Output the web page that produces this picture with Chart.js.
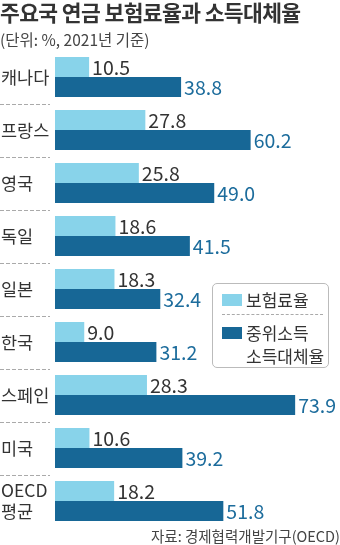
<!DOCTYPE html>
<html>
<head>
<meta charset="utf-8">
<script src="https://cdn.jsdelivr.net/npm/chart.js@4"></script>
<style>
    html, body { margin: 0; padding: 0; background: #fff; }
    body { width: 340px; height: 545px; position: relative; overflow: hidden; font-family: "Noto Sans CJK KR", sans-serif; color: #333; }
    #wrap { position: absolute; left: 0; top: 0; width: 340px; height: 545px; }
    .title { position: absolute; left: 0; top: -4px; font-size: 21.5px; font-weight: bold; letter-spacing: -0.6px; color: #333; white-space: nowrap; }
    .sub { position: absolute; left: 0; top: 28px; font-size: 15.5px; color: #444; white-space: nowrap; }
    .src { position: absolute; right: 0; top: 525px; font-size: 14.5px; color: #444; white-space: nowrap; }
    .legend { position: absolute; left: 212px; top: 283px; width: 117px; height: 85px; border: 1px solid #bbb; border-radius: 5px; box-sizing: border-box; background: #fff; }
    .sw { position: absolute; left: 9px; width: 20px; height: 12px; }
    .lt { position: absolute; left: 33px; font-size: 17px; line-height: 23px; color: #333; white-space: nowrap; }
    .dash { position: absolute; left: 9px; right: 5px; top: 30px; border-top: 1px dashed #aaa; }
</style>
</head>
<body>
<div id="wrap"><canvas id="c"></canvas></div>
<div class="title">주요국 연금 보험료율과 소득대체율</div>
<div class="sub">(단위: %, 2021년 기준)</div>
<div class="legend" id="legend"></div>
<div class="src">자료: 경제협력개발기구(OECD)</div>
<script>
const categories = ['캐나다', '프랑스', '영국', '독일', '일본', '한국', '스페인', '미국', ['OECD', '평균']];
const premiumRate = [10.5, 27.8, 25.8, 18.6, 18.3, 9.0, 28.3, 10.6, 18.2];
const replacementRate = [38.8, 60.2, 49.0, 41.5, 32.4, 31.2, 73.9, 39.2, 51.8];
const seriesNames = ['보험료율', ['중위소득', '소득대체율']];

const LIGHT = '#88d3ea';
const DARK = '#176796';
const FONT = '"Noto Sans CJK KR", sans-serif';

// legend box
const legend = document.getElementById('legend');
legend.innerHTML =
    '<div class="sw" style="top:10px;background:' + LIGHT + '"></div>' +
    '<div class="lt" style="top:4px">' + seriesNames[0] + '</div>' +
    '<div class="dash"></div>' +
    '<div class="sw" style="top:43px;background:' + DARK + '"></div>' +
    '<div class="lt" style="top:37px">' + seriesNames[1].join('<br>') + '</div>';

const labelsPlugin = {
    id: 'labels',
    afterDatasetsDraw(chart) {
        const ctx = chart.ctx;
        const yScale = chart.scales.y;
        ctx.save();

        // category names + dashed separators
        ctx.fillStyle = '#333';
        ctx.font = '17.5px ' + FONT;
        ctx.textAlign = 'left';
        ctx.textBaseline = 'middle';
        categories.forEach((c, i) => {
            const y = yScale.getPixelForValue(i);
            if (Array.isArray(c)) {
                ctx.fillText(c[0], 1, y - 11);
                ctx.fillText(c[1], 1, y + 10);
            } else {
                ctx.fillText(c, 1, y);
            }
            if (i < categories.length - 1) {
                const yn = (y + yScale.getPixelForValue(i + 1)) / 2;
                ctx.strokeStyle = '#aaa';
                ctx.lineWidth = 1;
                ctx.setLineDash([4, 2]);
                ctx.beginPath();
                ctx.moveTo(0, Math.round(yn) + 0.5);
                ctx.lineTo(50, Math.round(yn) + 0.5);
                ctx.stroke();
            }
        });
        ctx.setLineDash([]);

        // values at bar ends
        ctx.font = '19.5px ' + FONT;
        chart.data.datasets.forEach((ds, di) => {
            const meta = chart.getDatasetMeta(di);
            ctx.fillStyle = di === 0 ? '#333' : '#1c6c9c';
            meta.data.forEach((bar, i) => {
                ctx.fillText(ds.data[i].toFixed(1), bar.x + 3, bar.y + 1);
            });
        });
        ctx.restore();
    }
};

new Chart(document.getElementById('c'), {
    type: 'bar',
    data: {
        labels: categories,
        datasets: [
            { label: seriesNames[0], data: premiumRate, backgroundColor: LIGHT },
            { label: seriesNames[1].join(' '), data: replacementRate, backgroundColor: DARK }
        ]
    },
    options: {
        indexAxis: 'y',
        responsive: true,
        maintainAspectRatio: false,
        animation: false,
        layout: { padding: { left: 55, right: 0, top: 50.5, bottom: 17.5 } },
        datasets: { bar: { categoryPercentage: 0.755, barPercentage: 1.0 } },
        scales: {
            x: { display: false, min: 0, max: 87.7 },
            y: { display: false }
        },
        plugins: { legend: { display: false }, tooltip: { enabled: false } }
    },
    plugins: [labelsPlugin]
});
</script>
</body>
</html>
